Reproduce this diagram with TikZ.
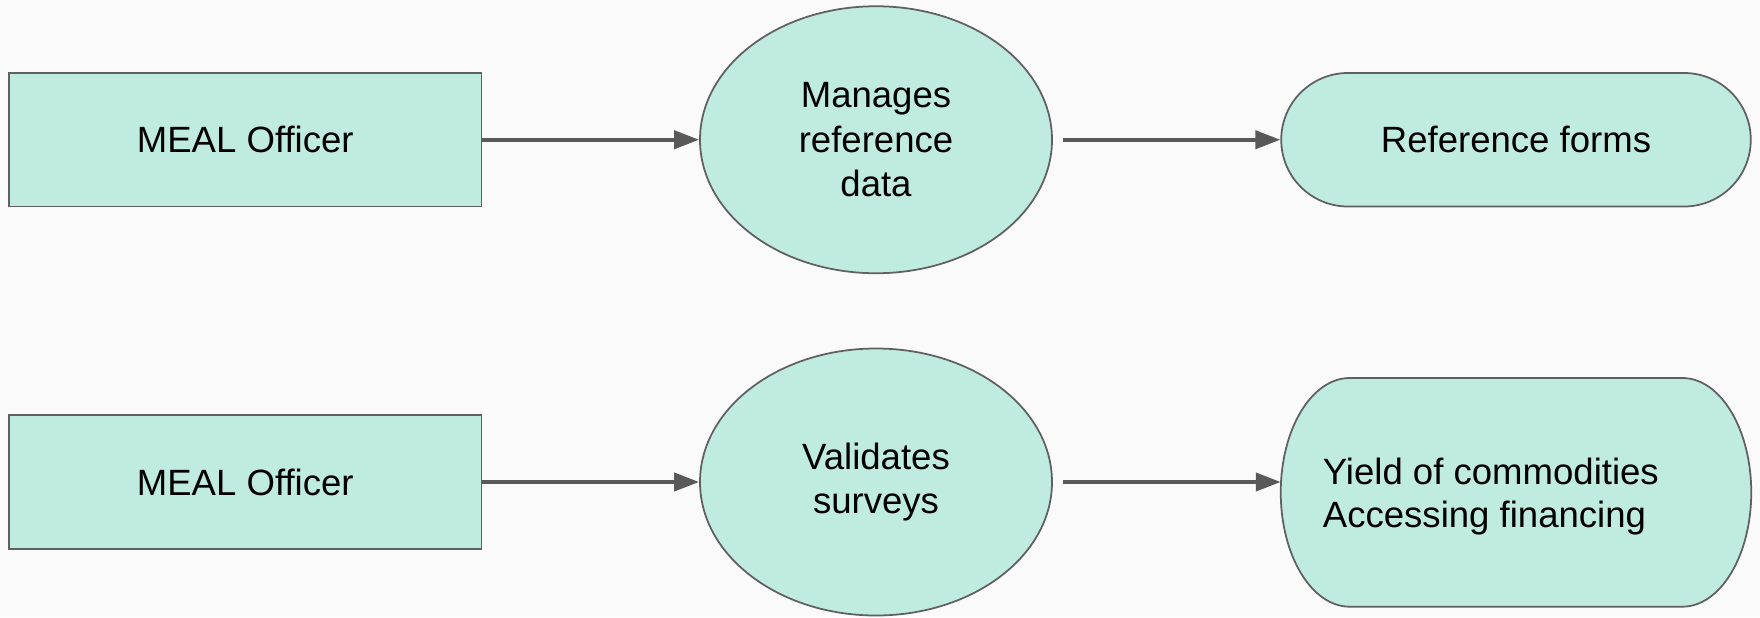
\documentclass[tikz,border=0pt]{standalone}
\usepackage{fontspec}
\setmainfont{Liberation Sans}
\usetikzlibrary{arrows.meta,shapes.geometric,shapes.misc}
\definecolor{mint}{RGB}{191,235,224}
\definecolor{edge}{RGB}{96,96,96}
\definecolor{link}{RGB}{89,89,89}
\definecolor{paper}{RGB}{249,250,249}
\begin{document}
\begin{tikzpicture}[font=\fontsize{10.4}{12.7}\selectfont,
box/.style={draw=edge,line width=0.5pt,fill=mint},
actor/.style={box,minimum width=4.725cm,minimum height=1.335cm},
task/.style={box,ellipse,inner sep=0pt,minimum width=3.52cm,minimum height=2.67cm,align=center},
arr/.style={draw=link,line width=1.15pt,-{Triangle[length=0.25cm,width=0.18cm]}}]
\path[use as bounding box,fill=paper](0,0)rectangle(17.6,6.17);
\node[actor](officer1)at(2.4525,4.7725){MEAL Officer};
\node[task](manage)at(8.76,4.7725){Manages\\reference\\data};
\node[box,rounded rectangle,minimum width=4.93cm,minimum height=1.335cm](forms)at(15.16,4.7725){Reference forms};
\node[actor](officer2)at(2.4525,1.35){MEAL Officer};
\node[task](validate)at(8.76,1.35){Validates\\surveys};
\node[outer sep=0pt,minimum width=4.705cm,minimum height=2.287cm](yield)at(15.16,1.2465){};
\draw[box]([xshift=0.69cm]yield.north west)--([xshift=-0.69cm]yield.north east)
arc[start angle=90,end angle=-90,x radius=0.69cm,y radius=1.1435cm]
--([xshift=0.69cm]yield.south west)
arc[start angle=270,end angle=90,x radius=0.69cm,y radius=1.1435cm]--cycle;
\node[inner sep=0pt,anchor=west,align=left,font=\fontsize{10.4}{12.2}\selectfont](yieldtext)at([xshift=0.415cm,yshift=-0.04cm]yield.west){Yield of commodities\\Accessing financing};
\draw[arr](officer1)--(manage);
\draw[arr,shorten <=0.1cm](manage)--(forms);
\draw[arr](officer2)--(validate);
\draw[arr,shorten <=0.1cm](validate)--(validate-|yield.west);
\end{tikzpicture}
\end{document}
